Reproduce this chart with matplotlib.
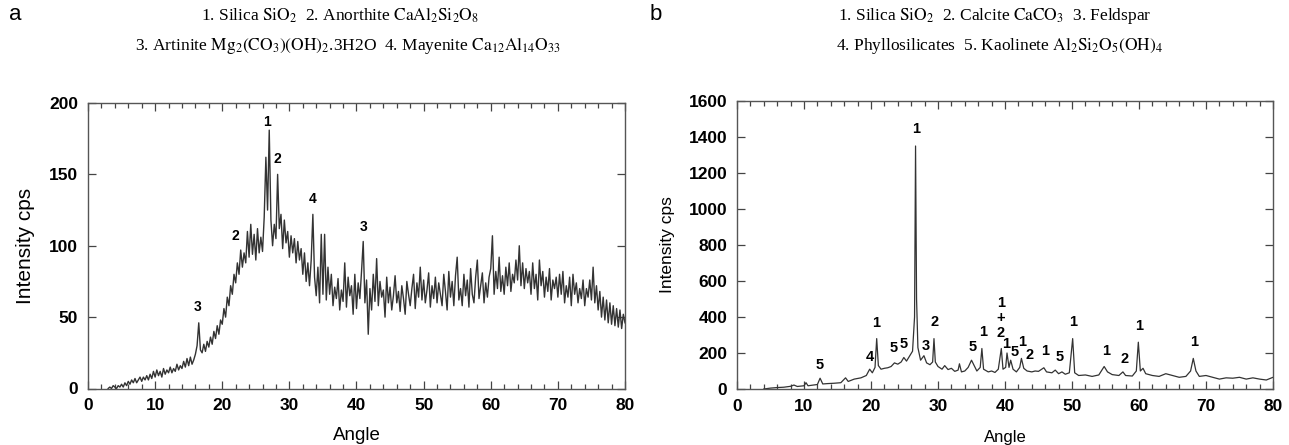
import numpy as np
import matplotlib
matplotlib.use("Agg")
import matplotlib.pyplot as plt
from matplotlib.ticker import MultipleLocator

plt.rcParams['font.family'] = ['Liberation Sans', 'DejaVu Sans']
plt.rcParams['mathtext.fontset'] = 'stix'

# panel a: angle grid starts at 3 deg, 0.25 deg steps
angle_a_start = 3.0
angle_a_step = 0.25
intensity_a = [
    # 3.0 - 9.75
    0, 1, 0, 2, 1, 0, 2, 1, 3, 1, 4, 2, 5, 3, 6, 4, 7, 4, 6, 8, 5, 8, 6, 9, 6, 10, 7, 12,
    # 10 - 15.75
    8, 13, 9, 12, 8, 14, 10, 13, 11, 15, 11, 14, 12, 17, 13, 16, 14, 19, 15, 21, 16, 22, 17, 20,
    # 16 - 19.75
    24, 30, 46, 27, 25, 31, 26, 33, 29, 36, 31, 40, 35, 44, 38, 48,
    # 20 - 23.75
    45, 56, 50, 64, 58, 72, 66, 80, 74, 88, 80, 97, 85, 95, 88, 110,
    # 24 - 25.75
    92, 115, 94, 108, 90, 112, 95, 106,
    # 26 - 28.75
    96, 120, 162, 125, 181, 118, 100, 115, 105, 150, 112, 122,
    # 29 - 31.75
    98, 118, 102, 110, 92, 107, 95, 105, 88, 103, 90, 98,
    # 32 - 35.75
    80, 95, 75, 88, 72, 90, 122, 78, 65, 85, 60, 108, 66, 108, 62, 85,
    # 36 - 39.75
    66, 80, 58, 71, 63, 77, 55, 69, 61, 88, 57, 78, 65, 72, 52, 80,
    # 40 - 44.75
    56, 74, 63, 82, 103, 60, 76, 38, 70, 55, 80, 61, 91, 58, 75, 64, 69, 50, 78, 60,
    # 45 - 49.75
    71, 55, 65, 79, 60, 68, 54, 72, 63, 52, 75, 66, 58, 70, 80, 56, 74, 64, 85, 62,
    # 50 - 54.75
    76, 60, 69, 81, 57, 72, 63, 78, 60, 74, 66, 58, 80, 68, 55, 82, 64, 75, 58, 79,
    # 55 - 59.75
    92, 62, 70, 58, 80, 65, 76, 57, 84, 66, 60, 78, 90, 63, 72, 81, 60, 74, 64, 78,
    # 60 - 64.75
    84, 107, 66, 82, 70, 92, 68, 79, 66, 85, 72, 88, 68, 80, 74, 90, 76, 100, 72, 88,
    # 65 - 69.75
    70, 84, 74, 82, 66, 88, 70, 80, 62, 90, 72, 82, 64, 78, 68, 84, 62, 76, 70, 78,
    # 70 - 74.75
    64, 80, 66, 82, 60, 72, 64, 78, 58, 80, 66, 74, 60, 70, 63, 76, 58, 70, 64, 76,
    # 75 - 80
    62, 85, 60, 72, 55, 68, 50, 64, 48, 62, 46, 60, 45, 58, 44, 56, 43, 55, 42, 52, 46,
]
angle_a = angle_a_start + angle_a_step * np.arange(len(intensity_a))

labels_a = ['1', '2', '4', '2', '3', '3']
label_a_x = [26.7, 28.2, 33.4, 22.0, 41.0, 16.3]
label_a_y = [187, 161, 133, 107, 113, 57]

# panel b
angle_b = [4.0, 5, 6, 7, 8, 8.5, 9, 10, 10.3, 10.6, 11, 12, 12.4, 12.8, 13.5, 14.5, 15.5, 16.2, 16.6,
           17.5, 18.5, 19.3, 19.8, 20.2, 20.6, 20.85, 21.1, 21.5, 22, 22.5, 23, 23.5, 24, 24.5,
           24.9, 25.3, 25.8, 26.2, 26.5, 26.65, 26.8, 27, 27.4, 27.9, 28.3, 28.8, 29.2, 29.4,
           29.6, 30, 30.6, 31, 31.5, 32, 32.5, 33, 33.2, 33.5, 34, 34.5, 35, 35.4, 35.8, 36.3,
           36.55, 36.8, 37.5, 38, 38.5, 39, 39.45, 39.7, 40.1, 40.3, 40.6, 40.85, 41.2, 41.7,
           42.2, 42.45, 42.8, 43.3, 44, 44.5, 45, 45.8, 46.2, 47, 47.5, 48, 48.5, 49, 49.6,
           50.1, 50.4, 51, 52, 53, 54, 54.8, 55.3, 56, 57, 57.6, 58, 59, 59.6, 59.9, 60.2,
           60.6, 61, 62, 63, 64, 64.5, 65, 66, 67, 67.7, 68.1, 68.5, 69, 70, 71, 72, 73, 74,
           75, 76, 77, 78, 79, 80]
intensity_b = [0, 5, 8, 10, 15, 22, 14, 18, 35, 18, 20, 25, 60, 28, 30, 32, 35, 62, 42,
               55, 62, 75, 110, 90, 120, 280, 130, 110, 115, 118, 125, 145, 138, 150,
               175, 155, 185, 210, 400, 1350, 500, 230, 160, 185, 145, 135, 150, 280,
               150, 125, 110, 130, 108, 115, 98, 105, 140, 95, 100, 120, 160, 130, 100, 120,
               225, 110, 95, 100, 92, 110, 225, 110, 120, 200, 120, 160, 110, 95,
               120, 170, 115, 100, 95, 100, 98, 118, 95, 90, 105, 85, 95, 82, 90,
               280, 90, 75, 78, 70, 78, 125, 95, 80, 75, 95, 75, 72, 100, 260, 100,
               115, 85, 75, 70, 85, 80, 75, 65, 70, 100, 170, 100, 70, 75, 65, 55, 62, 60,
               65, 55, 62, 55, 50, 65]

labels_b = ['5', '4', '1', '5', '5', '3', '2', '1', '5', '1', '1', '+', '2', '1', '5', '1',
            '2', '1', '5', '1', '1', '2', '1', '1']
label_b_x = [12.3, 19.8, 20.7, 23.4, 24.9, 28.1, 29.5, 26.7, 35.1, 36.7, 39.4, 39.4, 39.3,
             40.2, 41.4, 42.5, 43.6, 46.0, 48.1, 50.2, 55.1, 57.8, 60.0, 68.3]
label_b_y = [132, 178, 368, 225, 250, 238, 373, 1442, 232, 316, 479, 396, 312,
             250, 204, 260, 188, 210, 176, 373, 210, 169, 349, 260]

line_color = '#333333'

fig = plt.figure(figsize=(12.89, 4.45), dpi=100)
ax1 = fig.add_axes([88 / 1289, 1 - 388.5 / 445, 537 / 1289, 285.5 / 445])
ax2 = fig.add_axes([737 / 1289, 1 - 389 / 445, 536 / 1289, 288 / 445])

ax1.plot(angle_a, intensity_a, color=line_color, lw=1.0)
ax2.plot(angle_b, intensity_b, color=line_color, lw=0.9)

for t, x, y in zip(labels_a, label_a_x, label_a_y):
    ax1.text(x, y, t, ha='center', va='center', fontsize=10, fontweight='bold')
for t, x, y in zip(labels_b, label_b_x, label_b_y):
    ax2.text(x, y, t, ha='center', va='center', fontsize=10.5, fontweight='bold')

ax1.set_ylim(0, 200)
ax2.set_ylim(0, 1600)
ax1.yaxis.set_major_locator(MultipleLocator(50))
ax2.yaxis.set_major_locator(MultipleLocator(200))

for ax in (ax1, ax2):
    ax.set_xlim(0, 80)
    ax.xaxis.set_major_locator(MultipleLocator(10))
    ax.xaxis.set_minor_locator(MultipleLocator(2))
    ax.tick_params(which='both', direction='in', top=True, right=True, width=0.9,
                   colors='#444444', labelcolor='black')
    ax.tick_params(which='major', length=6, labelsize=12.5, pad=7)
    ax.tick_params(which='minor', length=3.5)
    for lab in ax.get_xticklabels() + ax.get_yticklabels():
        lab.set_fontweight('bold')
    for sp in ax.spines.values():
        sp.set_color('#555555')
        sp.set_linewidth(1.0)

ax1.set_xlabel('Angle', fontsize=13.5, labelpad=10)
ax1.set_ylabel('Intensity cps', fontsize=15, labelpad=10)
ax2.set_xlabel('Angle', fontsize=12, labelpad=12)
ax2.set_ylabel('Intensity cps', fontsize=12.5, labelpad=10)

serif = ['Liberation Serif', 'DejaVu Serif']
fig.text(340 / 1289, 1 - 15 / 445,
         r'1. Silica $\mathrm{SiO_2}$  2. Anorthite $\mathrm{CaAl_2Si_2O_8}$',
         ha='center', va='center', fontsize=12.5, family=serif)
fig.text(348 / 1289, 1 - 45 / 445,
         r'3. Artinite $\mathrm{Mg_2(CO_3)(OH)_2}$.3H2O  4. Mayenite $\mathrm{Ca_{12}Al_{14}O_{33}}$',
         ha='center', va='center', fontsize=12.5, family=serif)
fig.text(995 / 1289, 1 - 16 / 445,
         r'1. Silica $\mathrm{SiO_2}$  2. Calcite $\mathrm{CaCO_3}$  3. Feldspar',
         ha='center', va='center', fontsize=12.5, family=serif)
fig.text(1000 / 1289, 1 - 46 / 445,
         r'4. Phyllosilicates  5. Kaolinete $\mathrm{Al_2Si_2O_5(OH)_4}$',
         ha='center', va='center', fontsize=12.5, family=serif)

fig.text(15 / 1289, 1 - 15 / 445, 'a', ha='center', va='center', fontsize=16)
fig.text(656 / 1289, 1 - 15 / 445, 'b', ha='center', va='center', fontsize=16)

fig.savefig('out.png', dpi=100)
